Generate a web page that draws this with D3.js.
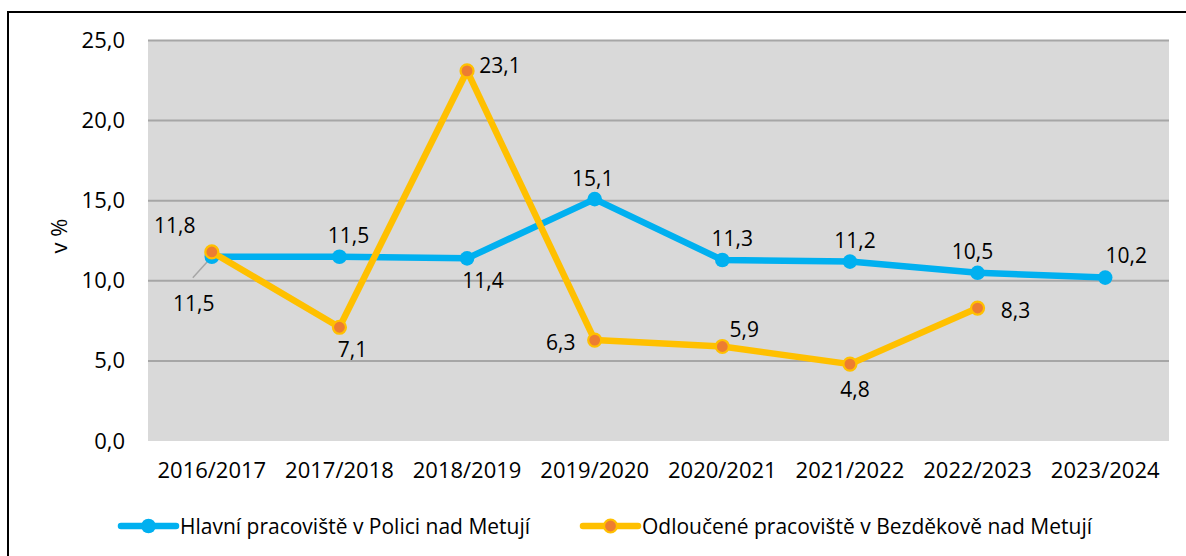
<!DOCTYPE html>
<html><head><meta charset="utf-8">
<script src="https://cdn.jsdelivr.net/npm/d3@7"></script>
<style>
html,body{margin:0;padding:0;background:#fff;}
svg{display:block;font-family:"Open Sans","Noto Sans",sans-serif;}
</style></head>
<body>
<svg id="chart" width="1186" height="556"></svg>
<script>
// ---- data ----
const categories = ["2016/2017","2017/2018","2018/2019","2019/2020","2020/2021","2021/2022","2022/2023","2023/2024"];
const seriesNames = ["Hlavní pracoviště v Polici nad Metují","Odloučené pracoviště v Bezděkově nad Metují"];
const hlavniValues = [11.5, 11.5, 11.4, 15.1, 11.3, 11.2, 10.5, 10.2];
const odlouceneValues = [11.8, 7.1, 23.1, 6.3, 5.9, 4.8, 8.3, null];
const yTicks = [0, 5, 10, 15, 20, 25];
const yTitle = "v %";

// ---- label placement (layout only) ----
const hlavniLabelOffsets = [[-18,46],[9,-22],[16,22],[-2,-21],[10,-22],[5,-22],[-5,-22],[21,-23]];
const odlouceneLabelOffsets = [[-37,-27],[13,22],[33,-6],[-34,2],[22,-17],[5,25],[38,2],null];

const fmt = d3.formatLocale({decimal:",", thousands:" ", grouping:[3], currency:["",""]}).format(".1f");

const svg = d3.select("#chart");
const plot = {left:148, right:1169, top:40.5, bottom:441};

// frame
svg.append("rect").attr("x",8).attr("y",12).attr("width",1300).attr("height",700)
  .attr("fill","none").attr("stroke","#000").attr("stroke-width",2);

const x = d3.scaleBand().domain(categories).range([plot.left, plot.right]).padding(0);
const cx = c => x(c) + x.bandwidth()/2;
const y = d3.scaleLinear().domain([0,25]).range([plot.bottom, plot.top]);

// plot background
svg.append("rect").attr("x",plot.left).attr("y",plot.top)
  .attr("width",plot.right-plot.left).attr("height",plot.bottom-plot.top).attr("fill","#D9D9D9");

// gridlines
svg.append("g").selectAll("line").data(yTicks.filter(t=>t>0)).join("line")
  .attr("x1",plot.left).attr("x2",plot.right)
  .attr("y1",d=>y(d)).attr("y2",d=>y(d))
  .attr("stroke","#A6A6A6").attr("stroke-width",2);

// y axis
const yAxis = svg.append("g").attr("transform",`translate(${plot.left},0)`)
  .call(d3.axisLeft(y).tickValues(yTicks).tickFormat(fmt).tickSize(0).tickPadding(23));
yAxis.select(".domain").remove();
yAxis.attr("font-family",null).attr("font-size",22);
yAxis.selectAll("text").attr("fill","#000");

// x axis
const xAxis = svg.append("g").attr("transform",`translate(0,${plot.bottom})`)
  .call(d3.axisBottom(x).tickSize(0).tickPadding(21));
xAxis.select(".domain").remove();
xAxis.attr("font-family",null).attr("font-size",22);
xAxis.selectAll("text").attr("fill","#000");

// y title
svg.append("text").attr("transform","translate(67,236) rotate(-90)")
  .attr("text-anchor","middle").attr("font-size",22).attr("fill","#000").text(yTitle);

const line = d3.line().defined(d=>d.v!=null).x(d=>cx(d.c)).y(d=>y(d.v));
const hData = categories.map((c,i)=>({c, v:hlavniValues[i], i}));
const oData = categories.map((c,i)=>({c, v:odlouceneValues[i], i}));

const blue = "#00B0F0", gold = "#FFC000", orange = "#ED7D31";

// leader line for first blue label
{
  const p = hData[0];
  svg.append("line").attr("x1",cx(p.c)-19).attr("y1",y(p.v)+21)
    .attr("x2",cx(p.c)).attr("y2",y(p.v))
    .attr("stroke","#A6A6A6").attr("stroke-width",1.5);
}

// blue series
svg.append("path").datum(hData).attr("d",line).attr("fill","none")
  .attr("stroke",blue).attr("stroke-width",6.5).attr("stroke-linejoin","round");
svg.append("g").selectAll("circle").data(hData.filter(d=>d.v!=null)).join("circle")
  .attr("cx",d=>cx(d.c)).attr("cy",d=>y(d.v)).attr("r",7.3).attr("fill",blue);

// orange series
svg.append("path").datum(oData).attr("d",line).attr("fill","none")
  .attr("stroke",gold).attr("stroke-width",6.5).attr("stroke-linejoin","round");
svg.append("g").selectAll("circle").data(oData.filter(d=>d.v!=null)).join("circle")
  .attr("cx",d=>cx(d.c)).attr("cy",d=>y(d.v)).attr("r",6.5)
  .attr("fill",orange).attr("stroke",gold).attr("stroke-width",2.2);

// data labels
function labels(data, offsets){
  svg.append("g").selectAll("text").data(data.filter(d=>d.v!=null)).join("text")
    .attr("x",d=>cx(d.c)+offsets[d.i][0]).attr("y",d=>y(d.v)+offsets[d.i][1])
    .attr("text-anchor","middle").attr("dominant-baseline","central")
    .attr("font-size",21).attr("fill","#000").text(d=>fmt(d.v));
}
labels(hData, hlavniLabelOffsets);
labels(oData, odlouceneLabelOffsets);

// legend
const legend = [
  {name:seriesNames[0], x0:121, x1:176, color:blue, fill:blue, stroke:null},
  {name:seriesNames[1], x0:583, x1:638, color:gold, fill:orange, stroke:gold}
];
const ly = 526;
const lg = svg.append("g").selectAll("g").data(legend).join("g");
lg.append("line").attr("x1",d=>d.x0).attr("x2",d=>d.x1).attr("y1",ly).attr("y2",ly)
  .attr("stroke",d=>d.color).attr("stroke-width",6.5).attr("stroke-linecap","round");
lg.append("circle").attr("cx",d=>(d.x0+d.x1)/2).attr("cy",ly).attr("r",d=>d.stroke?6.5:7.3)
  .attr("fill",d=>d.fill).attr("stroke",d=>d.stroke||"none").attr("stroke-width",2.2);
lg.append("text").attr("x",d=>d.x1+4).attr("y",ly).attr("dominant-baseline","central")
  .attr("font-size",21).attr("fill","#000").text(d=>d.name);
</script>
</body></html>
